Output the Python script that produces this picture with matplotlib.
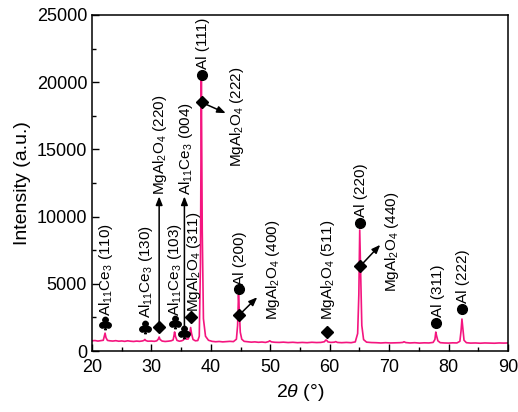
import matplotlib
matplotlib.use("Agg")
import matplotlib.pyplot as plt
from matplotlib.ticker import MultipleLocator
from matplotlib.textpath import TextPath
from matplotlib.font_manager import FontProperties
from matplotlib.path import Path

plt.rcParams['font.family'] = ['Liberation Sans', 'DejaVu Sans']
plt.rcParams['mathtext.fontset'] = 'custom'
plt.rcParams['mathtext.rm'] = 'Liberation Sans'
plt.rcParams['mathtext.it'] = 'Liberation Sans:italic'

# XRD pattern (2theta in deg, intensity in a.u.)
two_theta = [20.0, 20.5, 21.0, 21.5, 21.9, 22.05, 22.2, 22.35, 22.6, 23.0, 23.5, 24.0,
             24.5, 25.0, 25.5, 26.0, 26.5, 27.0, 27.5, 28.0, 28.5, 28.75, 28.9, 29.05,
             29.4, 30.0, 30.5, 30.9, 31.15, 31.3, 31.45, 31.8, 32.3, 32.8, 33.3, 33.65,
             33.8, 33.9, 34.05, 34.3, 34.7, 35.1, 35.4, 35.55, 35.7, 35.9, 36.2, 36.45,
             36.6, 36.75, 37.0, 37.4, 37.8, 38.05, 38.25, 38.4, 38.55, 38.75, 39.1, 39.6,
             40.2, 40.8, 41.4, 42.0, 42.6, 43.2, 43.8, 44.3, 44.5, 44.65, 44.8, 44.95,
             45.2, 45.6, 46.2, 46.8, 47.4, 48.0, 48.6, 49.2, 49.7, 49.9, 50.2, 50.8,
             51.5, 52.2, 53.0, 53.8, 54.6, 55.4, 56.2, 57.0, 57.8, 58.5, 59.1, 59.35,
             59.5, 59.7, 60.2, 60.8, 61.0, 61.3, 62.0, 62.8, 63.6, 64.3, 64.7, 64.9,
             65.05, 65.2, 65.4, 65.7, 66.2, 67.0, 67.8, 68.6, 69.4, 70.2, 71.0, 71.8,
             72.3, 72.5, 72.8, 73.5, 74.3, 75.1, 75.9, 76.7, 77.4, 77.7, 77.85, 78.0,
             78.2, 78.6, 79.3, 80.0, 80.7, 81.4, 81.9, 82.1, 82.25, 82.4, 82.6, 83.0,
             83.7, 84.5, 85.3, 86.1, 86.9, 87.7, 88.5, 89.3, 90.0]
intensity = [760, 780, 740, 770, 800, 1050, 1330, 1000, 790, 760, 740, 770,
             730, 750, 720, 760, 730, 710, 740, 720, 750, 790, 860, 780,
             730, 740, 720, 760, 880, 1040, 860, 740, 710, 730, 760, 820,
             1150, 1420, 1080, 790, 730, 760, 830, 1000, 1080, 880, 900, 1250,
             1750, 1300, 860, 760, 780, 1100, 6500, 20200, 9000, 2400, 1100, 800,
             720, 690, 710, 680, 700, 720, 700, 880, 1900, 4170, 2900, 1400,
             880, 720, 690, 660, 680, 650, 670, 640, 700, 760, 680, 650,
             640, 660, 630, 650, 620, 640, 620, 650, 630, 640, 690, 820,
             790, 680, 640, 660, 700, 640, 620, 640, 620, 680, 1300, 4200,
             9000, 6000, 1900, 850, 660, 630, 620, 600, 620, 600, 610, 620,
             640, 690, 630, 600, 620, 590, 610, 600, 640, 860, 1410, 1100,
             760, 620, 600, 590, 610, 600, 720, 1500, 2380, 1700, 800, 620,
             590, 600, 580, 600, 590, 580, 600, 590, 600]

# phase markers
al_x = [38.45, 44.7, 65.1, 77.9, 82.3]
al_y = [20500, 4600, 9550, 2050, 3100]
spinel_x = [31.3, 36.65, 38.45, 44.7, 59.5, 65.1]
spinel_y = [1800, 2500, 18500, 2650, 1450, 6300]
ce_x = [22.2, 28.9, 33.9, 35.55]
ce_y = [2100, 1800, 2150, 1450]

# peak labels: (x, y of text bottom, text)
label_x = [22.4, 29.1, 31.5, 33.9, 35.8, 37.15, 38.6, 44.4, 44.9, 50.4, 59.7, 65.3,
           70.5, 78.2, 82.5]
label_y = [2600, 2450, 11600, 2600, 11600, 2900, 21000, 13700, 4900, 2300, 2300,
           10000, 4400, 2500, 3600]
label_txt = [r'Al$_{11}$Ce$_3$ (110)', r'Al$_{11}$Ce$_3$ (130)', r'MgAl$_2$O$_4$ (220)',
             r'Al$_{11}$Ce$_3$ (103)', r'Al$_{11}$Ce$_3$ (004)', r'MgAl$_2$O$_4$ (311)',
             'Al (111)', r'MgAl$_2$O$_4$ (222)', 'Al (200)', r'MgAl$_2$O$_4$ (400)',
             r'MgAl$_2$O$_4$ (511)', 'Al (220)', r'MgAl$_2$O$_4$ (440)', 'Al (311)',
             'Al (222)']

# arrows: start (marker) -> end
arr_x0 = [31.3, 35.55, 38.45, 44.7, 65.1]
arr_y0 = [1800, 1450, 18500, 2650, 6300]
arr_x1 = [31.3, 35.55, 42.5, 47.8, 68.5]
arr_y1 = [11500, 11500, 17700, 4000, 7900]

fig = plt.figure(figsize=(5.18, 4.12), dpi=100)
ax = fig.add_axes([0.1776, 0.148, 0.8031, 0.8156])

ax.plot(two_theta, intensity, color='#f4157f', lw=1.2)

for x0, y0, x1, y1 in zip(arr_x0, arr_y0, arr_x1, arr_y1):
    ax.annotate('', xy=(x1, y1), xytext=(x0, y0),
                arrowprops=dict(arrowstyle='-|>,head_length=0.5,head_width=0.2',
                                color='black', lw=1.1, shrinkA=0, shrinkB=0))

# club suit marker for Al11Ce3, centred on its own bbox
tp = TextPath((0, 0), '\u2663', prop=FontProperties(family='DejaVu Sans'))
ext = tp.get_extents()
club = Path(tp.vertices - [(ext.x0 + ext.x1) / 2, (ext.y0 + ext.y1) / 2], tp.codes)

ax.plot(al_x, al_y, 'o', color='black', ms=7)
ax.plot(spinel_x, spinel_y, 'D', color='black', ms=6)
ax.plot(ce_x, ce_y, ls='', marker=club, color='black', ms=11)

for x, y, s in zip(label_x, label_y, label_txt):
    ax.text(x, y, s, rotation=90, ha='center', va='bottom', fontsize=11)

ax.set_xlim(20, 90)
ax.set_ylim(0, 25000)
ax.xaxis.set_major_locator(MultipleLocator(10))
ax.xaxis.set_minor_locator(MultipleLocator(5))
ax.yaxis.set_major_locator(MultipleLocator(5000))
ax.yaxis.set_minor_locator(MultipleLocator(2500))
ax.tick_params(which='both', direction='in', top=False, right=False, labelsize=13)
ax.tick_params(which='major', length=5, width=1)
ax.tick_params(which='minor', length=3, width=1)
ax.tick_params(axis='x', pad=6)
for sp in ax.spines.values():
    sp.set_linewidth(1.1)

ax.set_xlabel(r'2$\theta$ (°)', fontsize=14)
ax.set_ylabel('Intensity (a.u.)', fontsize=14)

fig.savefig('out.png', dpi=100)
